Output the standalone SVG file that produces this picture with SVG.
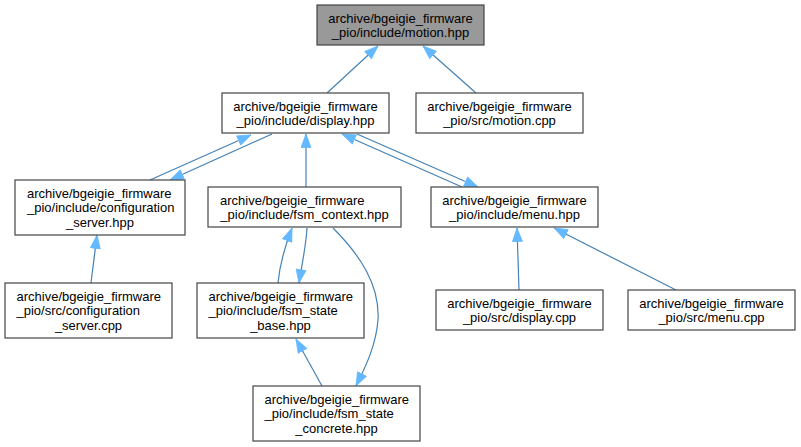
<svg xmlns="http://www.w3.org/2000/svg" width="801" height="447" viewBox="0 0 801 447">
<style>
.n rect{fill:#ffffff;stroke:#444444;stroke-width:1.2}
.n.root rect{fill:#999999}
.n text{font-family:"Liberation Sans",Arial,sans-serif;font-size:13px;fill:#000000}
.m{text-anchor:middle}
.s{text-anchor:start}
.e path{fill:none;stroke:#4682b4;stroke-width:1.2;marker-end:url(#ah)}
</style>
<defs>
<marker id="ah" markerUnits="userSpaceOnUse" viewBox="0 0 14 11" refX="14" refY="5.5" markerWidth="14" markerHeight="11" orient="auto">
<path d="M0.5,0.5 L14,5.5 L0.5,10.5 z" fill="#63b8ff" stroke="#63b8ff" stroke-width="0.8"/>
</marker>
</defs>
<rect width="801" height="447" fill="#ffffff"/>
<g id="edges" class="e">
<path d="M327,93 L378,46"/>
<path d="M476,93 L423,46"/>
<path d="M150,180 L251,135"/>
<path d="M272,134 L170,180"/>
<path d="M306,187 L306,134"/>
<path d="M462,187 L342,134"/>
<path d="M357,134 L478,187"/>
<path d="M519,290 L517,228"/>
<path d="M676,290 L554,228"/>
<path d="M91,283 L97,235"/>
<path d="M278,283 C280,262 285,246 292,228"/>
<path d="M307,228 C306,246 302,264 299,283"/>
<path d="M333,228 C360,255 380,285 378,320 C376,345 366,366 356,386"/>
<path d="M322,386 L296,339"/>
</g>
<g id="motion_hpp" class="n root">
<rect x="317" y="5" width="167" height="40"/>
<text class="m" x="400.5" y="22.5">archive/bgeigie_firmware</text>
<text class="m" x="400.5" y="37">_pio/include/motion.hpp</text>
</g>
<g id="display_hpp" class="n">
<rect x="222" y="93" width="167" height="40"/>
<text class="m" x="305.5" y="110.5">archive/bgeigie_firmware</text>
<text class="m" x="305.5" y="125">_pio/include/display.hpp</text>
</g>
<g id="motion_cpp" class="n">
<rect x="416" y="93" width="167" height="40"/>
<text class="m" x="499.5" y="110.5">archive/bgeigie_firmware</text>
<text class="m" x="499.5" y="125">_pio/src/motion.cpp</text>
</g>
<g id="configuration_server_hpp" class="n">
<rect x="15" y="180" width="170" height="55"/>
<text class="s" x="27" y="197.5">archive/bgeigie_firmware</text>
<text class="s" x="27" y="212">_pio/include/configuration</text>
<text class="m" x="100" y="226.5">_server.hpp</text>
</g>
<g id="fsm_context_hpp" class="n">
<rect x="208" y="187" width="193" height="40"/>
<text class="s" x="220" y="204.5">archive/bgeigie_firmware</text>
<text class="m" x="304.5" y="219">_pio/include/fsm_context.hpp</text>
</g>
<g id="menu_hpp" class="n">
<rect x="431" y="187" width="167" height="40"/>
<text class="m" x="514.5" y="204.5">archive/bgeigie_firmware</text>
<text class="m" x="514.5" y="219">_pio/include/menu.hpp</text>
</g>
<g id="configuration_server_cpp" class="n">
<rect x="5" y="283" width="167" height="55"/>
<text class="s" x="16.5" y="300.5">archive/bgeigie_firmware</text>
<text class="s" x="16.5" y="315">_pio/src/configuration</text>
<text class="m" x="88.5" y="329.5">_server.cpp</text>
</g>
<g id="fsm_state_base_hpp" class="n">
<rect x="197" y="283" width="167" height="55"/>
<text class="s" x="208.5" y="300.5">archive/bgeigie_firmware</text>
<text class="s" x="208.5" y="315">_pio/include/fsm_state</text>
<text class="m" x="280.5" y="329.5">_base.hpp</text>
</g>
<g id="display_cpp" class="n">
<rect x="436" y="290" width="167" height="40"/>
<text class="m" x="519.5" y="307.5">archive/bgeigie_firmware</text>
<text class="m" x="519.5" y="322">_pio/src/display.cpp</text>
</g>
<g id="menu_cpp" class="n">
<rect x="628" y="290" width="167" height="40"/>
<text class="m" x="711.5" y="307.5">archive/bgeigie_firmware</text>
<text class="m" x="711.5" y="322">_pio/src/menu.cpp</text>
</g>
<g id="fsm_state_concrete_hpp" class="n">
<rect x="253" y="386" width="167" height="55"/>
<text class="s" x="264.5" y="403.5">archive/bgeigie_firmware</text>
<text class="s" x="264.5" y="418">_pio/include/fsm_state</text>
<text class="m" x="336.5" y="432.5">_concrete.hpp</text>
</g>
</svg>
